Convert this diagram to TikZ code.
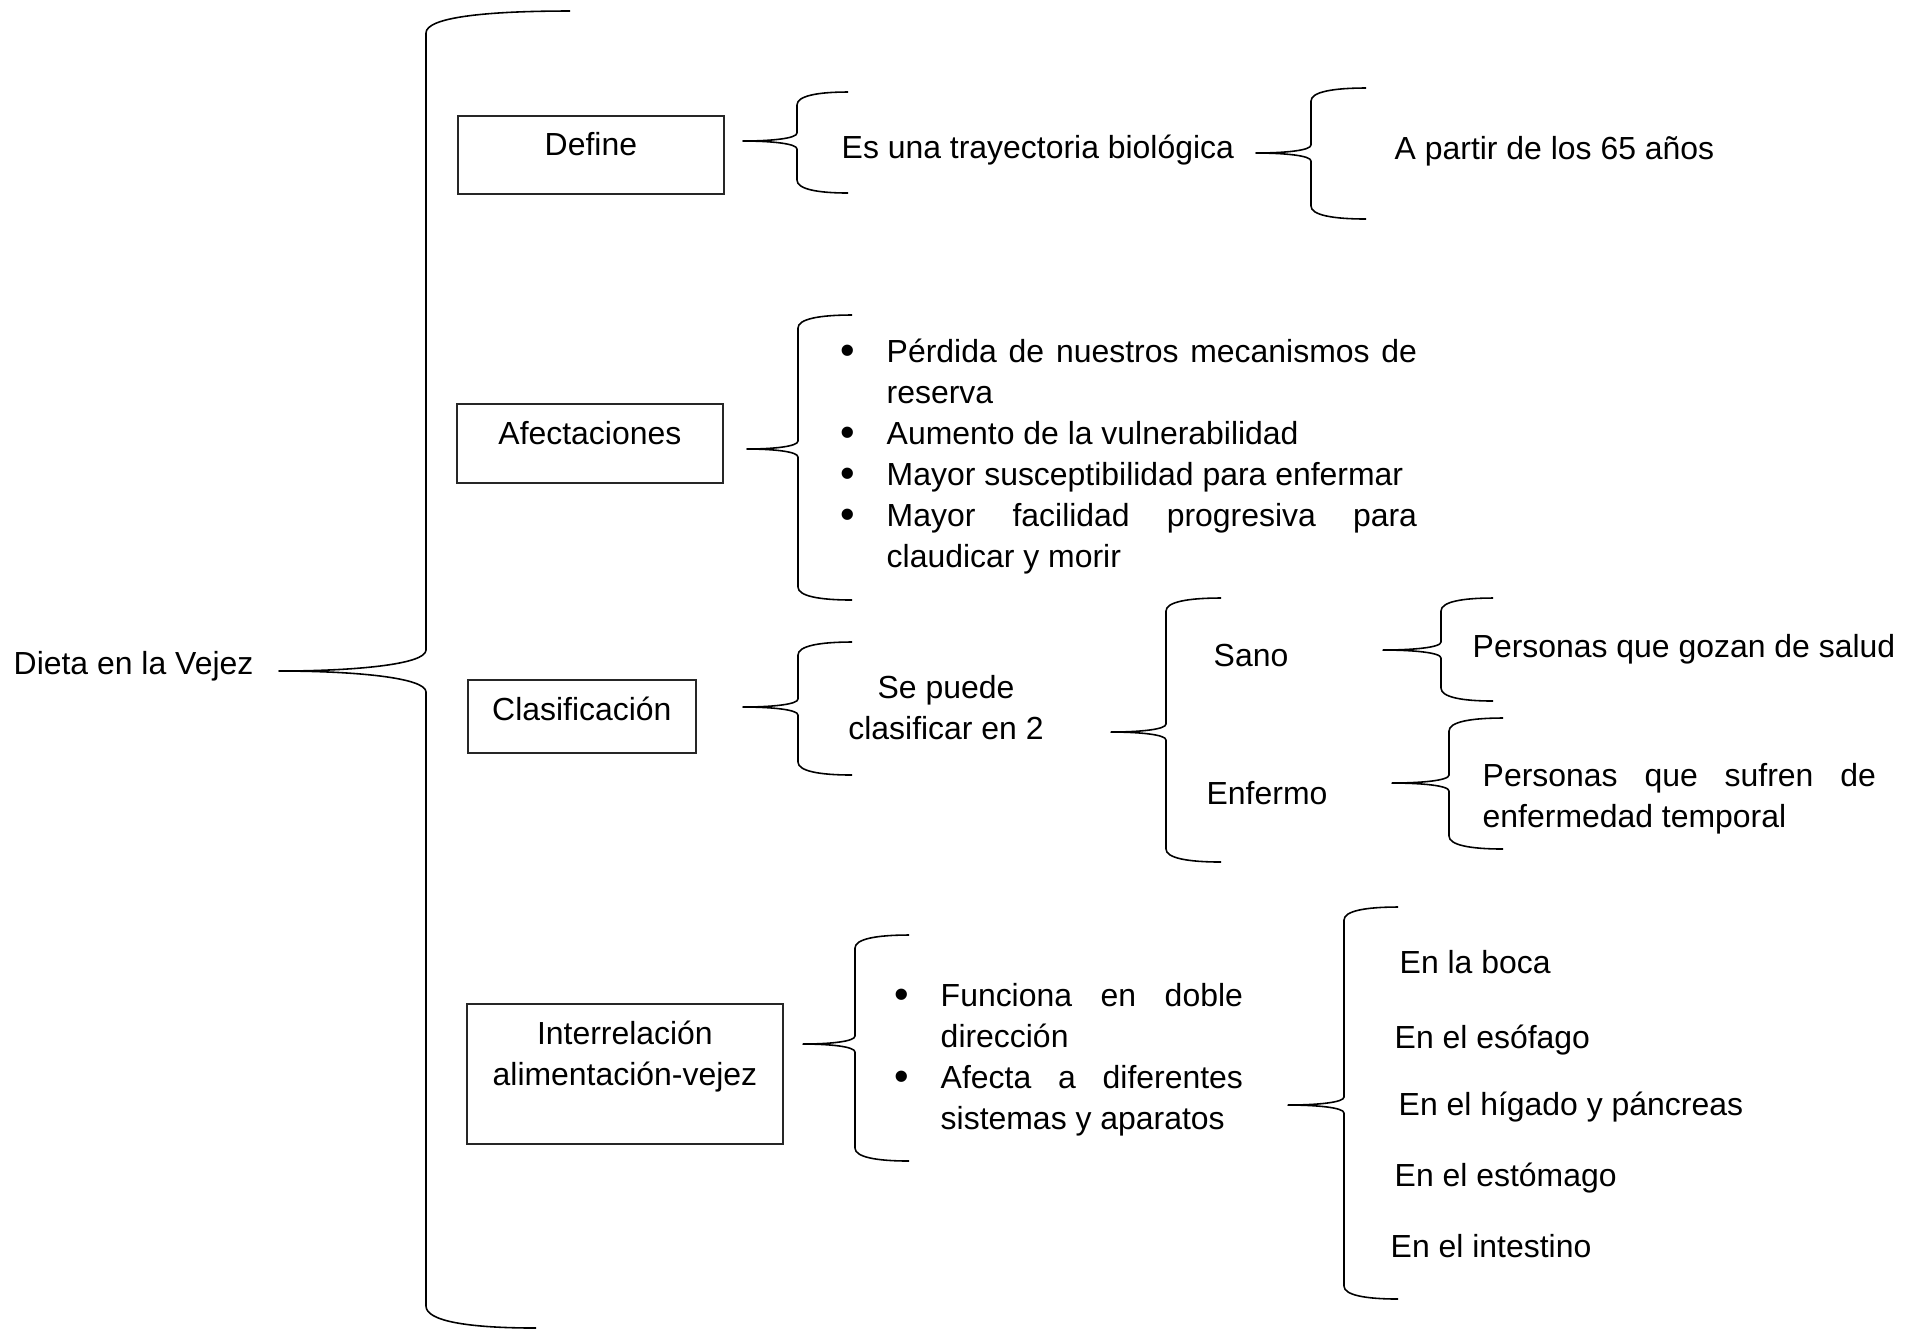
\documentclass[tikz,border=0pt]{standalone}
\usepackage{fontspec}
\setmainfont{Liberation Sans}

\tolerance=10000
\hbadness=10000
\hyphenpenalty=10000

\newlength\itmind
\setlength\itmind{0.46cm}
% bullet item with hanging indent
\newcommand\itm[1]{\par\noindent\hangindent=\itmind\hangafter=1\hbox to\itmind{\raisebox{-0.07em}{\scalebox{1.3}{\textbullet}}\hss}#1}
\newcommand\twolines[2]{\begin{tabular}[t]{@{}c@{}}#1\\#2\end{tabular}}
% brace: tip, width, top end, bottom end, up, down, corner, middle corner
\newcommand\curlyat[8]{%
  \begin{scope}[shift={(#1)}]
    \draw[curly] ({#2+#3},{-#5}) .. controls ({#2+0.4*#3},{-#5}) and (#2,{-#5+0.3*#7}) .. (#2,{-#5+#7})
      -- (#2,{-#8}) .. controls (#2,{-0.3*#8}) and ({0.5*#2},0) .. (0,0)
      .. controls ({0.5*#2},0) and (#2,{0.3*#8}) .. (#2,#8)
      -- (#2,{#6-#7}) .. controls (#2,{#6-0.3*#7}) and ({#2+0.4*#4},#6) .. ({#2+#4},#6);
  \end{scope}}

\begin{document}
\begin{tikzpicture}[
    x=0.01cm, y=-0.01cm,
    font=\fontsize{9.08pt}{11.67pt}\selectfont,
    box/.style={rectangle, draw=black!85, line width=0.45pt, inner sep=0pt, anchor=north west},
    txt/.style={inner sep=0pt, anchor=base west},
    mid/.style={inner sep=0pt, anchor=base},
    curly/.style={line width=0.45pt, line join=round},
]
\useasboundingbox (0,0) rectangle (1919,1332);

\node[txt] (dieta) at (13,674) {Dieta en la Vejez};

\node[box, minimum width=2.66cm, text height=0.40cm, text depth=0.38cm] (define) at (457,115) {Define};
\node[box, minimum width=2.66cm, text height=0.41cm, text depth=0.38cm] (afect) at (456,403) {Afectaciones};
\node[box, minimum width=2.28cm, text height=0.41cm, text depth=0.32cm] (clasif) at (467,679) {Clasificación\hspace{0.1cm}};
\node[box, minimum width=3.16cm, text height=0.41cm, text depth=0.99cm] (interrel) at (466,1003)
    {\twolines{Interrelación}{alimentación-vejez}};

% define
\node[txt] (trayect) at (841,158) {Es una trayectoria biológica};
\node[txt] (edad) at (1394,159) {A partir de los 65 años};

% afectaciones
\node[txt] (afectlist) at (840,362) {\parbox[t]{5.76cm}{%
    \itm{Pérdida de nuestros mecanismos de\linebreak reserva}
    \itm{Aumento de la vulnerabilidad}
    \itm{Mayor susceptibilidad para enfermar}
    \itm{Mayor facilidad progresiva para\linebreak claudicar y morir}}};

% clasificacion
\node[mid] (sepuede) at (946,698) {\twolines{Se puede}{clasificar en 2}};
\node[mid] (sano) at (1251,666) {Sano};
\node[mid] (enfermo) at (1267,804) {Enfermo};
\node[txt] (salud) at (1472,657) {Personas que gozan de salud};
\node[txt] (temporal) at (1482,786) {\parbox[t]{3.93cm}{Personas que sufren de\linebreak enfermedad temporal}};

% interrelacion
\node[txt] (interlist) at (894,1006) {\parbox[t]{3.48cm}{%
    \itm{Funciona en doble\linebreak dirección}
    \itm{Afecta a diferentes\linebreak sistemas y aparatos}}};
\node[txt] (boca) at (1399,973) {En la boca};
\node[txt] (esofago) at (1394,1048) {En el esófago};
\node[txt] (higado) at (1398,1115) {En el hígado y páncreas};
\node[txt] (estomago) at (1394,1186) {En el estómago};
\node[txt] (intestino) at (1390,1257) {En el intestino};

% brace tips
\coordinate (t-main) at (279,671);
\coordinate (t-define) at (743,141);
\coordinate (t-trayect) at (1256,153);
\coordinate (t-afect) at (747,449);
\coordinate (t-clasif) at (743,707);
\coordinate (t-sepuede) at (1111,732);
\coordinate (t-sano) at (1383,650);
\coordinate (t-enfermo) at (1392,783);
\coordinate (t-interrel) at (803,1044);
\coordinate (t-organos) at (1288,1105);

\curlyat{t-main}{147}{144}{110}{660}{657}{22}{21}
\curlyat{t-define}{54}{51}{51}{49}{52}{13}{8}
\curlyat{t-trayect}{55}{55}{55}{65}{66}{13}{8}
\curlyat{t-afect}{51}{54}{54}{134}{151}{13}{8}
\curlyat{t-clasif}{55}{54}{54}{65}{68}{13}{8}
\curlyat{t-sepuede}{55}{55}{55}{134}{130}{13}{8}
\curlyat{t-sano}{58}{52}{52}{52}{51}{13}{8}
\curlyat{t-enfermo}{57}{54}{54}{65}{66}{13}{8}
\curlyat{t-interrel}{52}{54}{54}{109}{117}{13}{8}
\curlyat{t-organos}{56}{54}{54}{198}{194}{13}{8}
\end{tikzpicture}
\end{document}
